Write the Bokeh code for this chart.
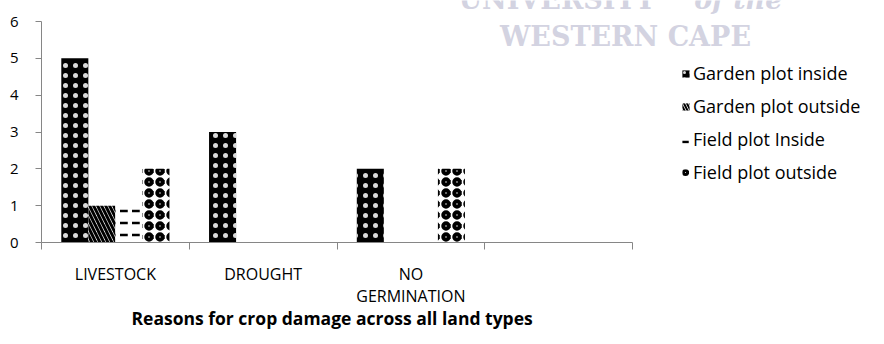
from bokeh.plotting import figure
from bokeh.models import (Range1d, FixedTicker, Legend, LegendItem, Label, ColumnDataSource, Title)
from bokeh.transform import dodge
from bokeh.embed import file_html
from bokeh.resources import INLINE

# ---- data ----
categories = ["LIVESTOCK", "DROUGHT", "NO\nGERMINATION", ""]
series_names = ["Garden plot inside", "Garden plot outside", "Field plot Inside", "Field plot outside"]
garden_inside = [5, 3, 2, 0]
garden_outside = [1, 0, 0, 0]
field_inside = [1, 0, 0, 0]
field_outside = [2, 0, 2, 0]
y_max = 6
y_ticks = [0, 1, 2, 3, 4, 5, 6]
x_title = "Reasons for crop damage across all land types"

# ---- layout constants (pixels) ----
W, H = 884, 344
AX_LEFT, AX_RIGHT = 41, 632      # x axis extent
AX_TOP, AX_BOTTOM = 21, 242      # y axis extent
FONT = "Open Sans"
AXIS_COLOR = "#868686"
TITLE_LEFT = 131                 # left edge of the x-axis title

n = len(categories)
centers = [i + 0.5 for i in range(n)]
bounds = [i for i in range(n + 1)]

# frame spans from the axes to the right / top edge of the canvas so that the
# legend and the watermark can sit inside it; axes are bounded to the data area
x_per_px = n / (AX_RIGHT - AX_LEFT)
y_per_px = y_max / (AX_BOTTOM - AX_TOP)
x_end = (W - AX_LEFT) * x_per_px
y_end = AX_BOTTOM * y_per_px

p = figure(width=W, height=H, output_backend="svg", toolbar_location=None,
           x_range=Range1d(0, x_end), y_range=Range1d(0, y_end),
           min_border_left=AX_LEFT, min_border_top=0,
           min_border_right=0, min_border_bottom=H - AX_BOTTOM)
p.outline_line_color = None
p.xgrid.visible = False
p.ygrid.visible = False
p.background_fill_color = "white"
p.border_fill_color = "white"

# x axis: labels at category centres, ticks at category boundaries
xa = p.xaxis[0]
xa.bounds = (0, n)
xa.ticker = FixedTicker(ticks=centers, minor_ticks=bounds)
xa.major_label_overrides = {c: lab for c, lab in zip(centers, categories)}
xa.major_tick_out = 0
xa.major_tick_in = 0
xa.minor_tick_out = 7
xa.minor_tick_in = 0
xa.minor_tick_line_color = AXIS_COLOR
xa.axis_line_color = AXIS_COLOR
xa.major_label_standoff = 13
xa.major_label_text_font = FONT
xa.major_label_text_font_size = "16px"
xa.major_label_text_color = "black"
xa.major_label_text_line_height = 1.0

ya = p.yaxis[0]
ya.bounds = (0, y_max)
ya.ticker = FixedTicker(ticks=y_ticks, minor_ticks=[])
ya.major_tick_out = 6
ya.major_tick_in = 0
ya.major_tick_line_color = AXIS_COLOR
ya.axis_line_color = AXIS_COLOR
ya.major_label_standoff = 17
ya.major_label_text_font = FONT
ya.major_label_text_font_size = "15px"
ya.major_label_text_color = "black"

# x axis title
p.add_layout(Title(text=x_title, align="left", offset=TITLE_LEFT - AX_LEFT,
                   text_font=FONT, text_font_style="bold", text_font_size="17.5px",
                   text_color="black", standoff=-12), "below")

# ---- bars ----
src = ColumnDataSource(dict(x=centers, gi=garden_inside, go=garden_outside,
                            fi=field_inside, fo=field_outside))
bw = 0.183
offsets = [-1.5 * bw, -0.5 * bw, 0.5 * bw, 1.5 * bw]
styles = [
    dict(fill_color="black", hatch_pattern="dot", hatch_color="white", hatch_scale=10,
         hatch_weight=1, hatch_alpha=0.85),
    dict(fill_color="white", hatch_pattern="left_diagonal_line", hatch_color="black",
         hatch_scale=8, hatch_weight=3),
    dict(fill_color="white", hatch_pattern="horizontal_dash", hatch_color="black",
         hatch_scale=12, hatch_weight=2.5),
    dict(fill_color="white", hatch_pattern="ring", hatch_color="black",
         hatch_scale=11, hatch_weight=4),
]
# legend swatches use slightly finer textures so they read at 9 px
legend_tweaks = [dict(hatch_scale=6), dict(hatch_scale=6, hatch_weight=2), {}, dict(hatch_scale=8, hatch_weight=3)]

renderers = []
legend_renderers = []
swatch_src = ColumnDataSource(dict(x=[0.0], top=[0.0]))   # zero-height swatch source
for col, off, st, tw in zip(["gi", "go", "fi", "fo"], offsets, styles, legend_tweaks):
    r = p.vbar(x=dodge("x", off, range=p.x_range), top=col, width=bw, bottom=0,
               source=src, line_color=None, **st)
    renderers.append(r)
    lst = dict(st)
    lst.update(tw)
    lr = p.vbar(x="x", top="top", width=bw, bottom=0, source=swatch_src, line_color=None, **lst)
    legend_renderers.append(lr)

legend = Legend(items=[LegendItem(label=nm, renderers=[r]) for nm, r in zip(series_names, legend_renderers)],
                location=(681 - AX_LEFT, AX_BOTTOM - 185), orientation="vertical",
                label_text_font=FONT, label_text_font_size="18px", label_text_color="black",
                glyph_width=9, glyph_height=9, label_height=26, spacing=7,
                padding=5, margin=0, label_standoff=3,
                border_line_color=None, background_fill_alpha=0)
p.add_layout(legend)

# ---- watermark (as in the scanned source) ----
def px_to_data(px, py):
    return (px - AX_LEFT) * x_per_px, (AX_BOTTOM - py) * y_per_px

wm_color = "#d3d3e1"
wm = dict(text_font="DejaVu Serif", text_font_size="27px", text_color=wm_color,
          text_baseline="middle")
x1, y1 = px_to_data(458, -1)
p.add_layout(Label(x=x1, y=y1, text="UNIVERSITY", text_font_style="bold", **wm))
x2, y2 = px_to_data(782, -1)
p.add_layout(Label(x=x2, y=y2, text="of the", text_font_style="bold italic", text_align="right", **wm))
x3, y3 = px_to_data(625, 36)
p.add_layout(Label(x=x3, y=y3, text="WESTERN CAPE", text_font_style="bold", text_align="center", **wm))

open("out.html", "w").write(file_html(p, INLINE))
